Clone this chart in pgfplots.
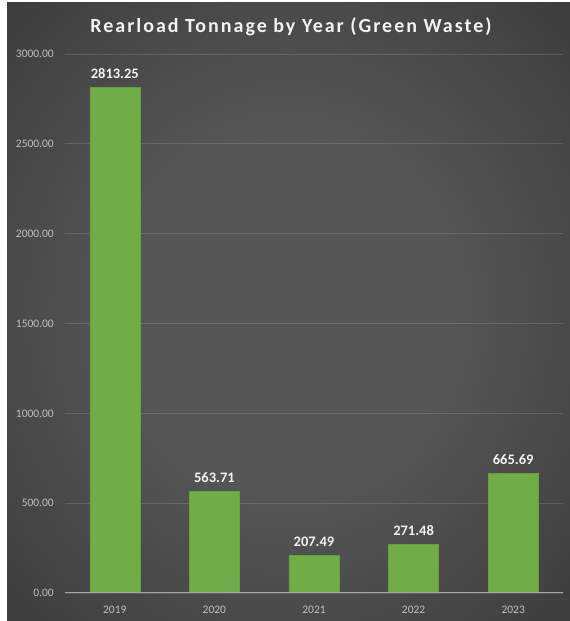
\documentclass[border=0pt]{standalone}
\usepackage{pgfplots}
\pgfplotsset{compat=1.18}
\usepackage{fontspec}
\setmainfont{Carlito}
\newfontfamily\titlefont[LetterSpace=10]{Carlito}
\definecolor{bgA}{HTML}{565656}
\definecolor{bgB}{HTML}{414141}
\definecolor{bgC}{HTML}{2D2D2D}
\definecolor{bgD}{HTML}{222222}
\definecolor{barg}{HTML}{70AD47}
\definecolor{bared}{HTML}{64A03E}
\definecolor{tickgray}{HTML}{BFBFBF}
\definecolor{axgray}{HTML}{A6A6A6}
\definecolor{lbl}{HTML}{F2F2F2}
\pgfdeclareradialshading{bgshade}{\pgfpoint{0bp}{0bp}}{color(0bp)=(bgA); color(14bp)=(bgA); color(32bp)=(bgB); color(50bp)=(bgC); color(72bp)=(bgD)}
\begin{document}
\begin{tikzpicture}[x=1pt,y=1pt]
\fill[white] (0,0) rectangle (570,621);
\shade[shading=bgshade] (7,0) rectangle (570,618);
\node[font=\titlefont\bfseries\fontsize{20}{24}\selectfont, text=lbl, anchor=base, inner sep=0pt] at (291,588) {Rearload Tonnage by Year (Green Waste)};
\begin{axis}[
  at={(65pt,28pt)}, anchor=south west,
  scale only axis, width=498pt, height=539pt,
  xmin=-0.5, xmax=4.5, ymin=0, ymax=3000,
  xtick={0,...,4}, xticklabels={2019,2020,2021,2022,2023},
  ytick={0,500,...,3000},
  yticklabels={0.00,500.00,1000.00,1500.00,2000.00,2500.00,3000.00},
  axis line style={draw=none},
  ymajorgrids, grid style={white, opacity=0.13, line width=0.75pt},
  major tick length=0pt, tick style={draw=none},
  ticklabel style={font=\fontsize{11.5}{13}\selectfont, text=tickgray},
  yticklabel style={anchor=east, inner sep=0pt, xshift=-11pt},
  xticklabel style={anchor=base, inner sep=0pt, yshift=-20pt},
  ybar, bar width=50pt,
  point meta=explicit symbolic,
  nodes near coords,
  nodes near coords style={font=\bfseries\fontsize{14.5}{17}\selectfont, text=lbl, anchor=base, inner sep=0pt, yshift=9pt},
]
\addplot[fill=barg, draw=bared, line width=0.5pt] coordinates {
  (0,2813.25) [2813.25]
  (1,563.71) [563.71]
  (2,207.49) [207.49]
  (3,271.48) [271.48]
  (4,665.69) [665.69]
};
\draw[axgray, line width=1pt] (axis cs:-0.5,0) -- (axis cs:4.5,0);
\end{axis}
\end{tikzpicture}
\end{document}
